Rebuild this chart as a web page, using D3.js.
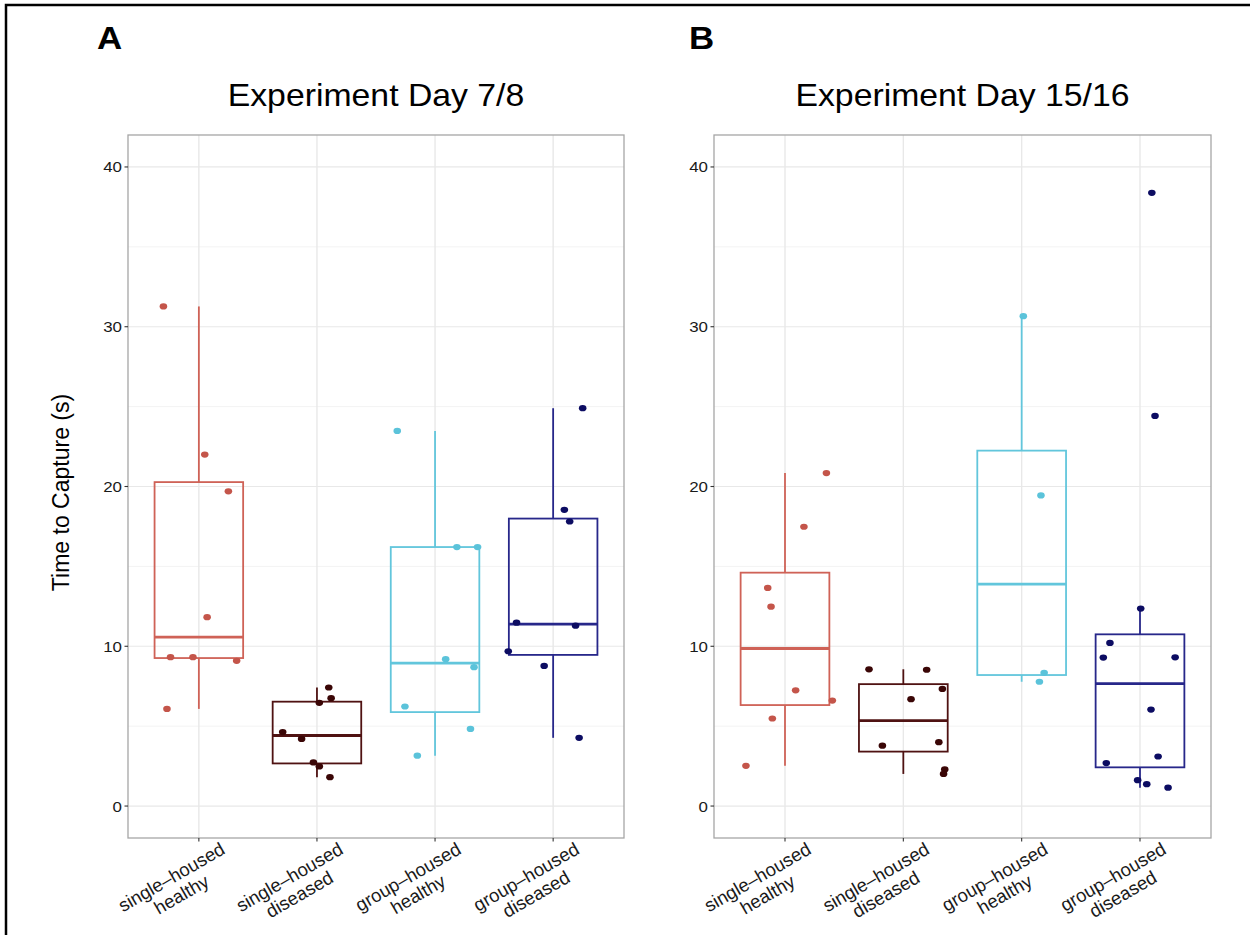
<!DOCTYPE html>
<html>
<head>
<meta charset="utf-8">
<script src="https://cdn.jsdelivr.net/npm/d3@7"></script>
<style>
  html, body { margin: 0; padding: 0; background: #ffffff; }
  svg { display: block; }
  text { font-family: "Liberation Sans", Arial, Helvetica, sans-serif; }
</style>
</head>
<body>
<svg id="chart" width="1250" height="935"></svg>
<script>
// ---------- DATA ----------
const categories = ["single–housed\nhealthy", "single–housed\ndiseased", "group–housed\nhealthy", "group–housed\ndiseased"];
const yTicks = [0, 10, 20, 30, 40];
const yMinorTicks = [5, 15, 25, 35];
const panelLetters = ["A", "B"];
const panelTitles = ["Experiment Day 7/8", "Experiment Day 15/16"];
const yAxisTitle = "Time to Capture (s)";

// Panel A (Day 7/8) values per category
const day7_shHealthy  = [31.27, 22.0, 19.7, 11.82, 9.32, 9.32, 9.09, 6.08];
const day7_shDiseased = [7.42, 6.75, 6.46, 4.63, 4.2, 2.73, 2.48, 1.81];
const day7_ghHealthy  = [23.48, 16.21, 16.21, 9.19, 8.69, 6.23, 4.83, 3.15];
const day7_ghDiseased = [24.9, 18.54, 17.81, 11.48, 11.29, 9.69, 8.77, 4.27];
// jitter (fraction of category step)
const day7_jitter = [
  [-0.30, 0.05, 0.25, 0.07, -0.24, -0.05, 0.32, -0.27],
  [0.10, 0.12, 0.02, -0.29, -0.13, -0.03, 0.02, 0.11],
  [-0.32, 0.185, 0.36, 0.09, 0.33, -0.255, 0.30, -0.15],
  [0.25, 0.095, 0.14, -0.31, 0.19, -0.38, -0.076, 0.22]
];

// Panel B (Day 15/16)
const day15_shHealthy  = [20.84, 17.48, 13.65, 12.48, 7.24, 6.6, 5.48, 2.52];
const day15_shDiseased = [8.56, 8.53, 7.33, 6.69, 3.78, 4.0, 2.29, 2.01];
const day15_ghHealthy  = [30.66, 19.44, 8.34, 7.78];
const day15_ghDiseased = [38.38, 24.42, 12.36, 10.21, 9.29, 9.31, 6.04, 3.1, 2.69, 1.62, 1.37, 1.15];
const day15_jitter = [
  [0.35, 0.16, -0.146, -0.118, 0.09, 0.40, -0.107, -0.33],
  [-0.29, 0.197, 0.33, 0.065, -0.177, 0.30, 0.35, 0.34],
  [0.014, 0.163, 0.19, 0.15],
  [0.10, 0.127, 0.006, -0.254, -0.31, 0.297, 0.093, 0.153, -0.285, -0.02, 0.057, 0.237]
];

const boxColors   = ["#cf6257", "#4f1212", "#62c6dc", "#27278a"];
const pointColors = ["#c4554a", "#3a0606", "#5bc3da", "#0c0c62"];

// ---------- LAYOUT ----------
const svg = d3.select("#chart");
const SX = 1.09; // horizontal stretch of the original figure's text

const panels = [
  { letter: panelLetters[0], letterX: 97, title: panelTitles[0], x0: 128, x1: 624,
    series: [day7_shHealthy, day7_shDiseased, day7_ghHealthy, day7_ghDiseased], jitter: day7_jitter, yTitle: true },
  { letter: panelLetters[1], letterX: 689, title: panelTitles[1], x0: 714, x1: 1211,
    series: [day15_shHealthy, day15_shDiseased, day15_ghHealthy, day15_ghDiseased], jitter: day15_jitter, yTitle: false }
];
const yTop = 135, yBot = 838;

// outer frame (top + left)
svg.append("path")
  .attr("d", "M6,935 L6,5 L1250,5")
  .attr("fill", "none").attr("stroke", "#000").attr("stroke-width", 2.5);

panels.forEach(p => {
  const y = d3.scaleLinear().domain([-2, 42]).range([yBot, yTop]);
  const x = d3.scalePoint().domain(categories).range([p.x0, p.x1]).padding(0.6);
  const step = x.step();
  const g = svg.append("g");

  // gridlines
  g.selectAll(".minor").data(yMinorTicks).join("line")
    .attr("x1", p.x0).attr("x2", p.x1).attr("y1", d => y(d)).attr("y2", d => y(d))
    .attr("stroke", "#f3f3f3").attr("stroke-width", 1);
  g.selectAll(".major").data(yTicks).join("line")
    .attr("x1", p.x0).attr("x2", p.x1).attr("y1", d => y(d)).attr("y2", d => y(d))
    .attr("stroke", "#e8e8e8").attr("stroke-width", 1.2);
  g.selectAll(".vgrid").data(categories).join("line")
    .attr("x1", d => x(d)).attr("x2", d => x(d)).attr("y1", yTop).attr("y2", yBot)
    .attr("stroke", "#e8e8e8").attr("stroke-width", 1.4);

  // boxes
  p.series.forEach((vals, i) => {
    const cat = categories[i];
    const cx = x(cat);
    const s = vals.slice().sort(d3.ascending);
    const q1 = d3.quantile(s, 0.25), med = d3.quantile(s, 0.5), q3 = d3.quantile(s, 0.75);
    const iqr = q3 - q1;
    const lo = d3.min(s.filter(v => v >= q1 - 1.5 * iqr));
    const hi = d3.max(s.filter(v => v <= q3 + 1.5 * iqr));
    const bw = step * 0.75;
    const col = boxColors[i];
    const bg = g.append("g");
    bg.append("line").attr("x1", cx).attr("x2", cx).attr("y1", y(hi)).attr("y2", y(q3))
      .attr("stroke", col).attr("stroke-width", 1.8);
    bg.append("line").attr("x1", cx).attr("x2", cx).attr("y1", y(q1)).attr("y2", y(lo))
      .attr("stroke", col).attr("stroke-width", 1.8);
    bg.append("rect").attr("x", cx - bw / 2).attr("width", bw)
      .attr("y", y(q3)).attr("height", y(q1) - y(q3))
      .attr("fill", "none").attr("stroke", col).attr("stroke-width", 1.8);
    bg.append("line").attr("x1", cx - bw / 2).attr("x2", cx + bw / 2).attr("y1", y(med)).attr("y2", y(med))
      .attr("stroke", col).attr("stroke-width", 2.8);

    // jittered points
    g.selectAll(null).data(vals.map((v, k) => ({ v, j: p.jitter[i][k] }))).join("ellipse")
      .attr("cx", d => cx + d.j * step).attr("cy", d => y(d.v))
      .attr("rx", 3.8).attr("ry", 3.1)
      .attr("fill", pointColors[i]);
  });

  // panel border
  g.append("rect").attr("x", p.x0).attr("y", yTop).attr("width", p.x1 - p.x0).attr("height", yBot - yTop)
    .attr("fill", "none").attr("stroke", "#a6a6a6").attr("stroke-width", 1.3);

  // y ticks + labels
  g.selectAll(".yt").data(yTicks).join("line")
    .attr("x1", p.x0 - 3.5).attr("x2", p.x0).attr("y1", d => y(d)).attr("y2", d => y(d))
    .attr("stroke", "#333").attr("stroke-width", 1.1);
  g.selectAll(".yl").data(yTicks).join("text")
    .attr("transform", d => `translate(${p.x0 - 6},${y(d) + 5.5}) scale(${SX},1)`)
    .attr("text-anchor", "end").attr("font-size", 15.5).attr("fill", "#1a1a1a")
    .text(d => d);

  // x ticks + labels
  g.selectAll(".xt").data(categories).join("line")
    .attr("x1", d => x(d)).attr("x2", d => x(d)).attr("y1", yBot).attr("y2", yBot + 3.5)
    .attr("stroke", "#333").attr("stroke-width", 1.1);
  const fs = 18.5;
  categories.forEach(cat => {
    const lines = cat.split("\n");
    const lg = g.append("g").attr("transform", `translate(${x(cat) + 20},${yBot + 2}) rotate(-30)`);
    const t1 = lg.append("text").attr("x", 0).attr("y", fs * 0.8)
      .attr("text-anchor", "end").attr("font-size", fs).attr("fill", "#1a1a1a").text(lines[0]);
    const w1 = t1.node().getComputedTextLength();
    lg.append("text").attr("x", -w1 / 2).attr("y", fs * 0.8 + 20)
      .attr("text-anchor", "middle").attr("font-size", fs).attr("fill", "#1a1a1a").text(lines[1]);
  });

  // title
  svg.append("text")
    .attr("transform", `translate(${(p.x0 + p.x1) / 2},106) scale(${SX},1)`)
    .attr("text-anchor", "middle").attr("font-size", 31).attr("fill", "#000")
    .text(p.title);

  // panel letter
  svg.append("text")
    .attr("transform", `translate(${p.letterX},49) scale(${SX},1)`)
    .attr("font-size", 32).attr("font-weight", "bold").attr("fill", "#000")
    .text(p.letter);

  if (p.yTitle) {
    svg.append("text")
      .attr("transform", `translate(69,${(yTop + yBot) / 2 + 6}) rotate(-90)`)
      .attr("text-anchor", "middle").attr("font-size", 23).attr("fill", "#000")
      .text(yAxisTitle);
  }
});
</script>
</body>
</html>
